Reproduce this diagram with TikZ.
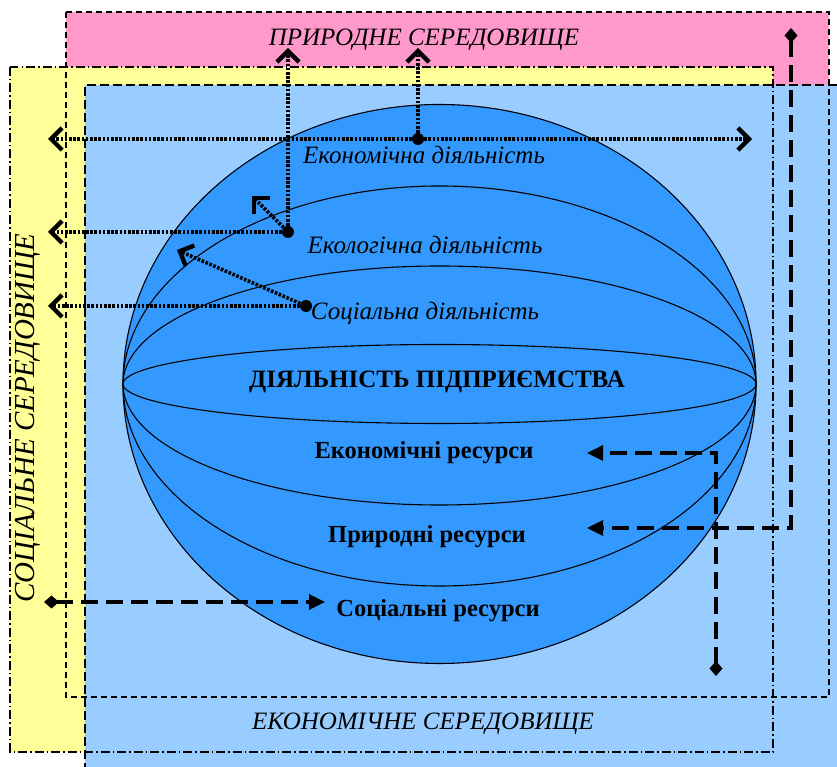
\documentclass[tikz,border=0pt]{standalone}
\usepackage{fontspec}
\setmainfont{Liberation Serif}
\usetikzlibrary{arrows.meta}

\definecolor{natpink}{HTML}{FF99CC}
\definecolor{socyellow}{HTML}{FFFF99}
\definecolor{ecoblue}{HTML}{99CCFF}
\definecolor{firmblue}{HTML}{3399FF}

\tikzset{
  envtext/.style={font=\itshape\fontsize{25}{28}\selectfont},
  acttext/.style={font=\itshape\fontsize{25}{28}\selectfont},
  restext/.style={font=\bfseries\fontsize{24.5}{28}\selectfont},
  joint/.style={circle, fill=black, inner sep=0pt, minimum size=12pt},
  dotlink/.style={line width=3.6pt, dash pattern=on 2.6pt off 1.6pt,
    -{Straight Barb[length=11pt,width=22pt,line width=4.4pt]}},
  reslink/.style={line width=3.3pt, dash pattern=on 17pt off 8pt,
    {Diamond[length=15pt,width=13pt]}-{Triangle[length=16pt,width=15pt]}},
}

\begin{document}
\begin{tikzpicture}[x=1pt,y=1pt]
\useasboundingbox (0,0) rectangle (837,767);

% environments
\fill[natpink] (66,755) rectangle (829,70);
\fill[socyellow] (10,700) rectangle (773,15);
\fill[ecoblue] (85,682) rectangle (837,0);
\draw[line width=2pt, dash pattern=on 6pt off 4pt] (66,755) rectangle (829,70);
\draw[line width=2pt, dash pattern=on 9pt off 3pt on 1.5pt off 3pt] (10,700) rectangle (773,15);
\draw[line width=2pt, dash pattern=on 9pt off 4pt] (837,682) -- (85,682) -- (85,0);

% sphere
\draw[fill=firmblue, line width=1.1pt] (439.5,383) ellipse [x radius=316.5, y radius=279.5];
\draw[line width=1.1pt] (123,383) arc [start angle=180, end angle=0, x radius=316.5, y radius=198];
\draw[line width=1.1pt] (123,383) arc [start angle=180, end angle=0, x radius=316.5, y radius=118];
\draw[line width=1.1pt] (123,383) arc [start angle=180, end angle=360, x radius=316.5, y radius=121];
\draw[line width=1.1pt] (123,383) arc [start angle=180, end angle=360, x radius=316.5, y radius=202];
\draw[line width=1.1pt] (439.5,383) ellipse [x radius=316.5, y radius=39.5];

\node[envtext] (natEnv) at (424,727) {ПРИРОДНЕ СЕРЕДОВИЩЕ};
\node[envtext] (ecoEnv) at (423,43) {ЕКОНОМІЧНЕ СЕРЕДОВИЩЕ};
\node[envtext, rotate=90, font=\itshape\fontsize{29}{32}\selectfont] (socEnv) at (28,349) {СОЦІАЛЬНЕ СЕРЕДОВИЩЕ};

\node[acttext] (ecoAct) at (424,612) {Економічна діяльність};
\node[acttext] (ecolAct) at (425,522) {Екологічна діяльність};
\node[acttext] (socAct) at (425,454) {Соціальна діяльність};
\node[font=\bfseries\fontsize{25}{28}\selectfont] (firm) at (437,385) {ДІЯЛЬНІСТЬ ПІДПРИЄМСТВА};
\node[restext] (ecoRes) at (424,314) {Економічні ресурси};
\node[restext] (natRes) at (427,230) {Природні ресурси};
\node[restext] (socRes) at (438,156) {Соціальні ресурси};

% activity links
\node[joint] (ecoDot) at (418,628) {};
\node[joint] (ecolDot) at (288,535) {};
\node[joint] (socDot) at (306,461) {};
\coordinate (ecoUp) at (418,719);
\coordinate (ecoLeft) at (48,628);
\coordinate (ecoRight) at (752,628);
\coordinate (ecolUp) at (288,719);
\coordinate (ecolLeft) at (48,535);
\coordinate (ecolDiag) at (252,571);
\coordinate (socLeft) at (48,461);
\coordinate (socDiag) at (177,517);
\draw[dotlink] (ecoDot) -- (ecoUp);
\draw[dotlink] (ecoDot) -- (ecoLeft);
\draw[dotlink] (ecoDot) -- (ecoRight);
\draw[dotlink] (ecolDot) -- (ecolUp);
\draw[dotlink] (ecolDot) -- (ecolLeft);
\draw[dotlink] (ecolDot) -- (ecolDiag);
\draw[dotlink] (socDot) -- (socLeft);
\draw[dotlink] (socDot) -- (socDiag);

% resource links
\coordinate (natSrc) at (791,739);
\coordinate (natTip) at (587,239);
\coordinate (ecoSrc) at (716,91);
\coordinate (ecoTip) at (587,314);
\coordinate (socSrc) at (44,165);
\coordinate (socTip) at (325,165);
\draw[reslink] (natSrc) |- (natTip);
\draw[reslink] (ecoSrc) |- (ecoTip);
\draw[reslink] (socSrc) -- (socTip);
\end{tikzpicture}
\end{document}
